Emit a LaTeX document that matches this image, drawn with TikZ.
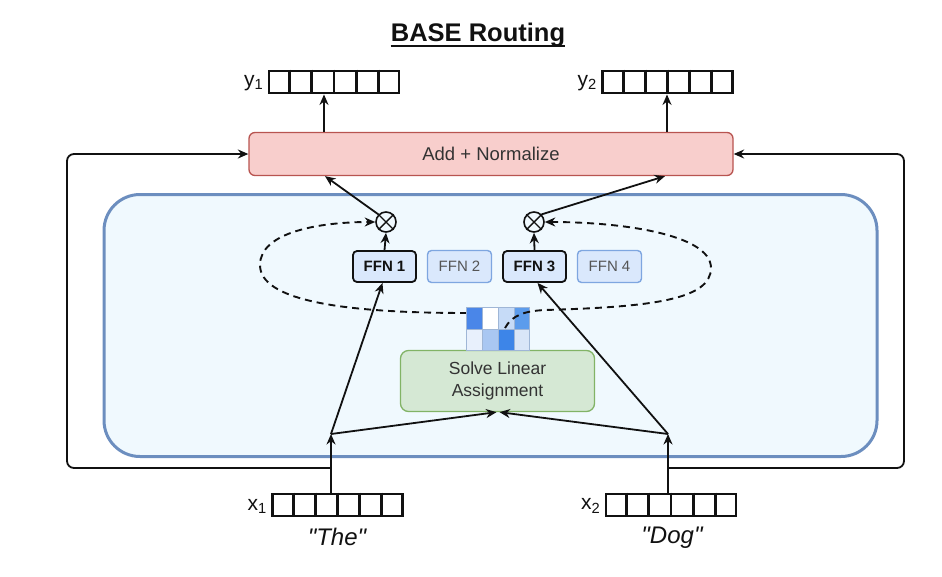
\documentclass[tikz,border=0pt]{standalone}
\usepackage{fontspec}
\setmainfont{Liberation Sans}[Ligatures=TeXOff]
\usetikzlibrary{arrows.meta,calc}
\definecolor{addfill}{HTML}{F8CECC}
\definecolor{adddraw}{HTML}{B85450}
\definecolor{solvefill}{HTML}{D5E8D4}
\definecolor{solvedraw}{HTML}{82B366}
\definecolor{ffnfill}{HTML}{DAE8FC}
\definecolor{ffndraw}{HTML}{7EA6E0}
\definecolor{bigfill}{HTML}{F0F9FE}
\definecolor{bigdraw}{HTML}{6C8EBF}
\definecolor{ink}{HTML}{111111}
\definecolor{txt}{HTML}{333333}
\definecolor{weaktxt}{HTML}{555555}
\definecolor{cellline}{HTML}{9FB6D6}
\definecolor{cA}{HTML}{4A86E8}
\definecolor{cB}{HTML}{FFFFFF}
\definecolor{cC}{HTML}{C6DBF7}
\definecolor{cD}{HTML}{5C9CEC}
\definecolor{cE}{HTML}{E8F0FC}
\definecolor{cF}{HTML}{A9C7F2}
\definecolor{cG}{HTML}{3D85E8}
\definecolor{cH}{HTML}{D9E6F8}
\newcommand{\qd}{\symbol{34}}
\begin{document}
\begin{tikzpicture}[x=1pt,y=-1pt,
  arr/.style={draw=ink, line width=1.8pt, -{Stealth[length=10.5pt,width=9pt]}},
  dashline/.style={draw=ink, line width=1.9pt, dash pattern=on 7pt off 5pt},
  vec/.style={draw=ink, line width=2.9pt, minimum width=130pt, minimum height=22pt, inner sep=0pt},
  ffnstrong/.style={draw=ink, line width=1.8pt, fill=ffnfill, rounded corners=4pt, minimum width=63pt, minimum height=31pt, font=\bfseries\fontsize{15}{18}\selectfont, text=ink},
  ffnweak/.style={draw=ffndraw, line width=1.4pt, fill=ffnfill, rounded corners=4pt, minimum width=64pt, minimum height=32pt, font=\fontsize{15}{18}\selectfont, text=weaktxt},
  otimesnode/.style={draw=ink, circle, line width=1.6pt, minimum size=20pt, inner sep=0pt, fill=bigfill},
  lbl/.style={font=\fontsize{21}{24}\selectfont, text=ink, inner sep=0pt, anchor=east}
]
\useasboundingbox (0,0) rectangle (942,576);

% title
\node[font=\bfseries\fontsize{25.5}{30}\selectfont, text=ink, inner sep=0pt] (title) at (478,35) {BASE Routing};
\draw[line width=2.3pt, ink] ([yshift=-4.5pt]title.base west) -- ([yshift=-4.5pt]title.base east);

% big MoE container
\node[draw=bigdraw, line width=3pt, fill=bigfill, rounded corners=36pt, minimum width=773pt, minimum height=262pt] (moe) at (490.5,325.5) {};

% add & normalize
\node[draw=adddraw, line width=1.3pt, fill=addfill, rounded corners=6pt, minimum width=484pt, minimum height=43pt, font=\fontsize{18.5}{22}\selectfont, text=txt] (add) at (491,154) {Add + Normalize};

% output vectors
\node[vec] (y1) at (334,82) {};
\node[vec] (y2) at (667.5,82) {};
\node[lbl] at ([xshift=-4pt,yshift=-1pt]y1.west) {y\textsubscript{1}};
\node[lbl] at ([xshift=-4pt,yshift=-1pt]y2.west) {y\textsubscript{2}};

% input vectors
\node[vec] (x1) at (337.5,505) {};
\node[vec] (x2) at (671,505) {};
\node[lbl] at ([xshift=-4pt,yshift=-1pt]x1.west) {x\textsubscript{1}};
\node[lbl] at ([xshift=-4pt,yshift=-1pt]x2.west) {x\textsubscript{2}};
\node[font=\itshape\fontsize{24}{28}\selectfont, text=ink] (the) at (337,537) {\qd The\qd};
\node[font=\itshape\fontsize{24}{28}\selectfont, text=ink] (dog) at (672,538) {\qd Dog\qd};

\foreach \v in {y1,y2,x1,x2}{
  \foreach \i in {1,...,5}{
    \draw[draw=ink, line width=2.9pt] ($(\v.north west)!\i/6!(\v.north east)$) -- ($(\v.south west)!\i/6!(\v.south east)$);
  }
}

% FFN experts
\node[ffnstrong] (ffn1) at (384.5,266.5) {FFN 1};
\node[ffnweak] (ffn2) at (459.5,266.5) {FFN 2};
\node[ffnstrong] (ffn3) at (534.5,266.5) {FFN 3};
\node[ffnweak] (ffn4) at (609.5,266.5) {FFN 4};

% otimes
\node[otimesnode] (o1) at (386,222) {};
\node[otimesnode] (o2) at (534,222) {};
\foreach \o in {o1,o2}{
  \draw[draw=ink, line width=1.4pt] (\o.north west) -- (\o.south east);
  \draw[draw=ink, line width=1.4pt] (\o.north east) -- (\o.south west);
}

% solve linear assignment
\node[draw=solvedraw, line width=1.3pt, fill=solvefill, rounded corners=8pt, minimum width=194pt, minimum height=61pt, align=center, font=\fontsize{17.5}{22}\selectfont, text=txt] (solve) at (497.5,381) {Solve Linear\\Assignment};

% left dashed gate path (behind matrix)
\coordinate (pl) at (467,313);
\draw[dashline, -{Stealth[length=10.5pt,width=9pt]}] (pl) .. controls (340,313) and (260,300) .. (260,265) .. controls (260,232) and (320,222) .. (o1.west);

% assignment matrix
\node[inner sep=0pt, minimum width=63pt, minimum height=43pt] (perm) at (498.5,329.5) {};
\foreach \c [count=\k from 0] in {cA,cB,cC,cD}{
  \draw[cellline, line width=0.8pt, fill=\c] ($(perm.north west)+(\k*15.75,0)$) rectangle ++(15.75,21.5);
}
\foreach \c [count=\k from 0] in {cE,cF,cG,cH}{
  \draw[cellline, line width=0.8pt, fill=\c] ($(perm.north west)+(\k*15.75,21.5)$) rectangle ++(15.75,21.5);
}

% right dashed gate path (over matrix)
\coordinate (pr) at (505,328);
\draw[dashline, -{Stealth[length=10.5pt,width=9pt]}] (pr) .. controls (512,315) and (525,311) .. (545,310) .. controls (650,307) and (711,300) .. (711,268) .. controls (711,234) and (620,222) .. (o2.east);

% junctions
\coordinate (j1) at (331,434);
\coordinate (j2) at (668,434);
\coordinate (r1) at (331,468);
\coordinate (r2) at (668,468);
\coordinate (lc) at (67,468);
\coordinate (rc) at (904,468);

% input arrows
\draw[arr] (x1.north -| j1) -- (j1);
\draw[arr] (x2.north -| j2) -- (j2);
\draw[arr] (j1) -- ([xshift=-2pt]ffn1.south);
\draw[arr] (j1) -- ([xshift=-1pt]solve.south);
\draw[arr] (j2) -- ([xshift=3pt]ffn3.south);
\draw[arr] (j2) -- ([xshift=2pt]solve.south);

% expert to otimes
\draw[arr] (ffn1.north) -- (o1.south);
\draw[arr] (ffn3.north) -- (o2.south);

% otimes to add
\draw[arr] (o1.north west) -- ([xshift=-166pt]add.south);
\draw[arr] (o2.north east) -- ([xshift=174pt]add.south);

% add to outputs
\draw[arr] ([xshift=-10pt]y1.south |- add.north) -- ([xshift=-10pt]y1.south);
\draw[arr] ([xshift=-0.5pt]y2.south |- add.north) -- ([xshift=-0.5pt]y2.south);

% residual connections
\draw[arr, rounded corners=7pt] (r1) -- (lc) |- (add.west);
\draw[arr, rounded corners=7pt] (r2) -- (rc) |- (add.east);
\end{tikzpicture}
\end{document}
